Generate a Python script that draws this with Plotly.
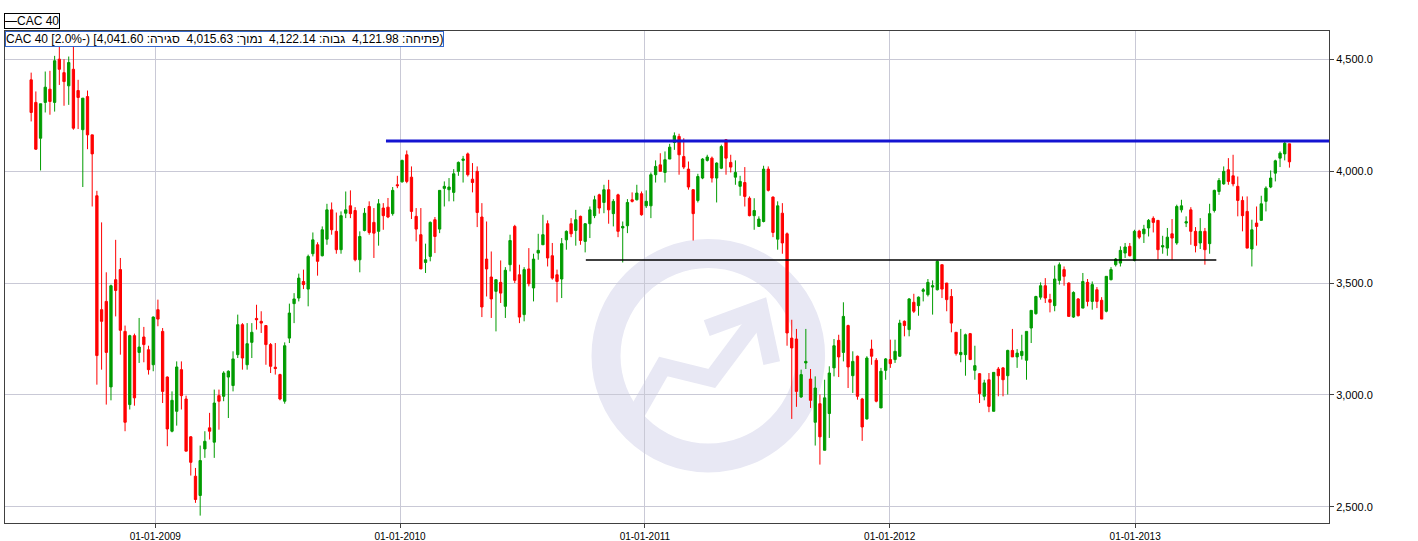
import pandas as pd
import plotly.graph_objects as go

# ---- data (weekly CAC 40 candles) ----
first_week = "2008-06-30"
n_weeks = 269

open_ = [4408,4307,4147,4307,4366,4307,4500,4440,4381,4455,4360,4185,4333,4162,3890,3381,3418,3036,3515,3560,
         3284,2957,3265,3190,3259,3202,3135,3381,3284,3080,2838,2927,3113,2982,2813,2637,2551,2759,2853,2789,
         2997,2994,3080,3042,3180,3314,3135,3235,3342,3329,3310,3225,3124,3091,2972,3254,3408,3433,3507,3473,
         3631,3671,3622,3696,3827,3731,3649,3812,3845,3824,3604,3735,3842,3771,3731,3835,3839,3810,3939,3952,
         4073,3973,3798,3716,3592,3619,3783,3741,3923,3917,3905,3999,4048,4077,3964,3999,3795,3607,3527,3463,
         3503,3396,3582,3753,3537,3359,3563,3478,3634,3671,3765,3622,3537,3518,3693,3765,3735,3798,3686,3765,
         3801,3894,3860,3917,3810,3894,3746,3756,3872,3872,3899,3845,3845,3984,4028,3994,4054,4128,4155,4065,
         4009,3917,3869,3969,4048,4058,3969,4013,4140,4039,3973,3932,3949,3879,3801,3753,3775,4009,3884,3696,
         3812,3720,3254,3250,2991,3143,3071,2878,2961,2753,2917,3121,3244,3190,3310,3086,3173,2982,2893,3205,
         3155,2942,3110,3158,3158,3173,3329,3292,3414,3399,3463,3448,3482,3470,3582,3500,3440,3280,3180,3180,
         3274,3110,3095,2994,3068,2927,3116,3121,3086,3199,3170,3176,3155,3299,3363,3437,3488,3426,3399,3512,
         3560,3500,3348,3429,3388,3503,3418,3470,3423,3374,3515,3582,3589,3634,3664,3601,3732,3720,3746,3789,
         3780,3661,3656,3720,3679,3827,3768,3827,3731,3679,3731,3676,3824,3909,3943,4006,3979,3932,3869,3820,
         3652,3768,3780,3865,3929,3991,4058,4077,4121.98]
high = [4440,4356,4301,4445,4448,4515,4560,4500,4512,4560,4408,4326,4360,4162,3912,3771,3548,3493,3693,3612,
        3310,3269,3274,3344,3304,3220,3351,3426,3299,3083,3016,3150,3150,2997,2816,2674,2774,2838,2920,3024,
        3024,3106,3110,3195,3359,3321,3321,3321,3403,3374,3310,3232,3232,3095,3235,3408,3455,3542,3560,3627,
        3726,3682,3753,3854,3860,3815,3820,3909,3914,3839,3731,3835,3865,3835,3875,3857,3880,3929,3979,4051,
        4092,4021,3835,3835,3676,3775,3795,3914,3954,3969,4009,4043,4068,4083,4036,4021,3857,3775,3641,3515,
        3601,3571,3716,3760,3582,3571,3656,3631,3720,3805,3780,3679,3560,3701,3735,3790,3827,3801,3768,3842,
        3890,3899,3939,3961,3875,3899,3775,3875,3905,3939,3909,3914,3994,4048,4080,4088,4122,4173,4167,4147,
        4043,3920,3988,4058,4073,4065,4039,4118,4143,4073,4048,3979,4018,3887,3879,3798,4024,4021,3887,3865,
        3857,3726,3336,3295,3113,3295,3116,3083,3002,3068,3128,3250,3269,3414,3314,3195,3176,2987,3173,3247,
        3165,3121,3165,3247,3247,3336,3333,3433,3452,3440,3478,3518,3512,3601,3582,3500,3473,3280,3295,3274,
        3277,3220,3098,3068,3098,3101,3125,3125,3202,3295,3205,3269,3284,3378,3443,3503,3522,3452,3578,3592,
        3574,3503,3463,3433,3545,3518,3507,3482,3437,3530,3571,3612,3664,3679,3679,3738,3738,3760,3786,3798,
        3780,3711,3746,3786,3850,3872,3798,3839,3750,3790,3746,3854,3917,3969,4021,4058,4073,3976,3887,3887,
        3783,3842,3890,3932,4003,4051,4088,4137,4122.14]
low = [4222,4095,4003,4262,4252,4266,4385,4292,4296,4185,4188,3929,4098,3842,3046,3113,2957,2976,3351,3180,
       2838,2935,2952,3143,3146,3091,3106,3307,2964,2771,2833,2863,2935,2749,2640,2518,2461,2719,2801,2719,
       2845,2972,2897,3016,3165,3113,3113,3165,3292,3277,3135,3098,3091,2976,2961,3232,3321,3418,3473,3396,
       3619,3533,3619,3671,3716,3631,3631,3790,3790,3597,3548,3731,3716,3612,3667,3738,3790,3801,3924,3949,
       3946,3786,3686,3563,3545,3597,3634,3723,3842,3865,3865,3979,3949,3976,3905,3750,3348,3440,3344,3284,
       3411,3344,3552,3500,3321,3329,3485,3418,3604,3671,3574,3515,3414,3433,3649,3705,3667,3671,3637,3701,
       3790,3810,3812,3765,3753,3705,3592,3723,3860,3869,3801,3835,3790,3949,3999,3949,4054,4095,3984,4009,
       3917,3690,3860,3964,4043,3949,3860,4009,3984,3994,3939,3890,3842,3798,3738,3753,3771,3909,3705,3649,
       3631,3220,2893,2947,2987,3116,2942,2774,2689,2753,2808,3083,3080,3150,3031,3009,2979,2795,2890,3135,
       2967,2942,3068,3121,3143,3170,3262,3262,3366,3354,3418,3440,3359,3467,3433,3374,3280,3176,3146,3086,
       3158,3068,2964,2976,2923,2927,2994,2994,3002,3170,3121,3158,3068,3232,3359,3426,3411,3369,3374,3493,
       3488,3351,3344,3351,3388,3396,3381,3388,3339,3369,3512,3574,3574,3612,3619,3597,3696,3679,3708,3726,
       3604,3631,3622,3604,3671,3815,3750,3671,3637,3652,3582,3631,3815,3894,3939,3939,3932,3798,3731,3656,
       3574,3667,3780,3820,3924,3954,4018,4048,4015.63]
close = [4262,4098,4301,4375,4311,4493,4455,4400,4485,4192,4329,4326,4162,4077,3176,3329,3190,3488,3467,3289,
         2878,3265,2987,3214,3225,3113,3348,3339,3016,2848,2976,3125,2997,2749,2699,2533,2707,2793,2838,2964,
         2972,3098,3106,3161,3314,3165,3229,3280,3336,3321,3225,3128,3118,2982,3220,3366,3429,3522,3493,3619,
         3693,3597,3738,3827,3738,3649,3801,3827,3810,3604,3708,3812,3726,3723,3854,3801,3795,3914,3935,4048,
         3954,3820,3741,3563,3604,3771,3708,3914,3932,3929,3988,4039,4054,3984,3949,3815,3393,3563,3429,3515,
         3455,3557,3690,3512,3348,3560,3497,3607,3646,3716,3612,3522,3507,3676,3731,3720,3783,3690,3765,3827,
         3872,3835,3917,3827,3865,3731,3753,3860,3865,3902,3805,3865,3984,4021,3999,4051,4107,4158,4073,4018,
         3929,3810,3976,4054,4063,3969,4036,4110,4058,4018,3994,3954,3887,3801,3824,3786,4009,3914,3726,3845,
         3679,3277,3210,3016,3091,3150,2976,3031,2813,2987,3098,3220,3170,3351,3125,3150,2994,2857,3165,3173,
         2972,3106,3161,3140,3195,3321,3310,3429,3374,3437,3470,3503,3488,3597,3473,3426,3321,3185,3190,3269,
         3158,3131,3006,3054,2949,3101,3086,3068,3199,3170,3187,3195,3284,3378,3440,3488,3433,3414,3518,3582,
         3530,3351,3458,3354,3507,3418,3493,3418,3339,3530,3560,3607,3646,3661,3622,3731,3705,3741,3780,3771,
         3649,3667,3705,3701,3842,3845,3774,3731,3667,3731,3649,3810,3914,3958,3999,3954,3943,3869,3801,3656,
         3738,3753,3854,3924,3969,4046,4080,4125,4041.60]

resistance_level = 4135
resistance_start = "2009-12-11"
support_level = 3603
support_start, support_end = "2010-10-05", "2013-05-02"

x_range = ["2008-05-22", "2013-10-17"]
y_range = [2428, 4626]

info_text = ("CAC 40 [2.0%-) [" +
             "פתיחה: 4,121.98\u00a0 גבוה: 4,122.14\u00a0 נמוך: 4,015.63\u00a0 סגירה: 4,041.60" + ")")

GREEN = "#009c00"
RED = "#ff0000"
GRID = "#c9c9d6"
AXIS = "#404040"
WM = "#e8e8f4"
FONT = "Liberation Sans, Arial, sans-serif"

dates = pd.date_range(first_week, periods=n_weeks, freq="7D")

fig = go.Figure()
fig.add_trace(go.Candlestick(
    x=dates, open=open_, high=high, low=low, close=close,
    increasing=dict(line=dict(color=GREEN, width=1), fillcolor=GREEN),
    decreasing=dict(line=dict(color=RED, width=1), fillcolor=RED),
    whiskerwidth=0, showlegend=False, hoverinfo="skip",
))

# plot-area pixel geometry (for the decorative watermark only)
L, R, T, B = 5, 1329, 31, 523.3
def px(xp, yp):
    return (xp - L) / (R - L), (B - yp) / (B - T)

shapes = []
# watermark ring
cx, cy, r = 708.3, 356, 102.3
x0, y0 = px(cx - r, cy + r)
x1, y1 = px(cx + r, cy - r)
shapes.append(dict(type="circle", xref="paper", yref="paper", x0=x0, y0=y0, x1=x1, y1=y1,
                   line=dict(color=WM, width=29), layer="below"))
def path(points):
    s = ""
    for i, (a, b) in enumerate(points):
        u, v = px(a, b)
        s += ("M" if i == 0 else "L") + f"{u:.4f},{v:.4f} "
    return s.strip()
shapes.append(dict(type="path", xref="paper", yref="paper",
                   path=path([(636.7, 413.3), (663.3, 366.7), (711.7, 378.7), (757, 318)]),
                   line=dict(color=WM, width=17), layer="below"))
shapes.append(dict(type="path", xref="paper", yref="paper",
                   path=path([(706.7, 328.3), (760, 308.7), (771.7, 363.3)]),
                   line=dict(color=WM, width=17), layer="below"))
# drawn levels
shapes.append(dict(type="line", xref="x", yref="y", x0=resistance_start, x1=x_range[1],
                   y0=resistance_level, y1=resistance_level, line=dict(color="#1414d2", width=3)))
shapes.append(dict(type="line", xref="x", yref="y", x0=support_start, x1=support_end,
                   y0=support_level, y1=support_level, line=dict(color="#000000", width=1.3)))

annotations = [
    dict(xref="paper", yref="paper", x=px(4, 0)[0], y=px(0, 13)[1], xanchor="left", yanchor="top",
         text="\u2014CAC 40", showarrow=False, font=dict(family=FONT, size=12, color="black"),
         bordercolor="black", borderwidth=1, borderpad=0, bgcolor="white"),
    dict(xref="paper", yref="paper", x=0, y=1, xanchor="left", yanchor="top",
         text=info_text, showarrow=False, font=dict(family=FONT, size=12, color="black"),
         bordercolor="#3366cc", borderwidth=1, borderpad=0, bgcolor="white"),
]

fig.update_layout(
    width=1418, height=541,
    margin=dict(l=L, r=1418 - R, t=T, b=541 - B, autoexpand=False),
    paper_bgcolor="white", plot_bgcolor="white",
    shapes=shapes, annotations=annotations, showlegend=False,
    font=dict(family=FONT, color="black"),
)
fig.update_xaxes(
    type="date", range=x_range, rangeslider=dict(visible=False), automargin=False,
    tick0="2009-01-01", dtick="M12", tickformat="%d-%m-%Y",
    showgrid=True, gridcolor=GRID, gridwidth=1,
    showline=True, linecolor=AXIS, linewidth=1, mirror=True,
    ticks="outside", ticklen=4, tickcolor=AXIS, tickfont=dict(family=FONT, size=10, color="black"),
)
fig.update_yaxes(
    side="right", range=y_range, tick0=2500, dtick=500, tickformat=",.1f", automargin=False,
    showgrid=True, gridcolor=GRID, gridwidth=1, zeroline=False,
    showline=True, linecolor=AXIS, linewidth=1, mirror=True,
    ticks="outside", ticklen=4, tickcolor=AXIS, tickfont=dict(family=FONT, size=11, color="black"),
)

fig.write_html("out.html", config={"displayModeBar": False},
               post_script="document.body.style.margin='0px';document.body.style.overflow='hidden';")
